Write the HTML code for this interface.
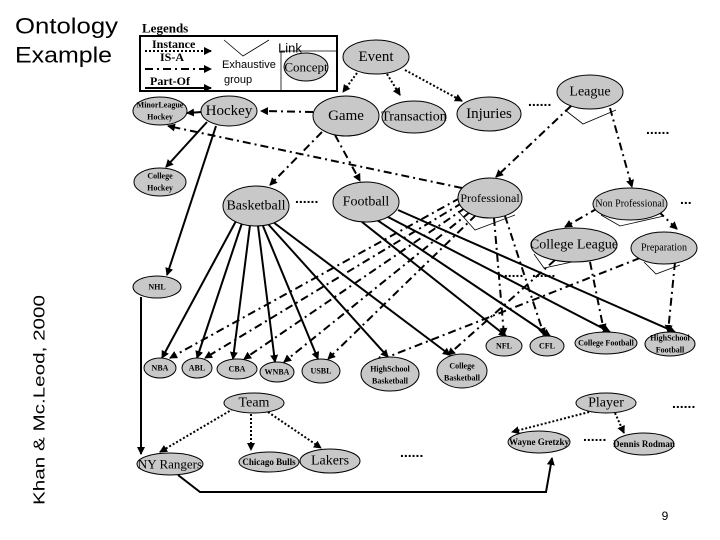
<!DOCTYPE html>
<html><head><meta charset="utf-8"><style>
html,body{margin:0;padding:0;background:#fff;width:720px;height:540px;overflow:hidden}
svg{position:absolute;left:0;top:0}
.t{font-family:"Liberation Serif",serif;fill:#000;text-anchor:middle;dominant-baseline:central}
.l{font-family:"Liberation Serif",serif;fill:#000;dominant-baseline:central;font-weight:bold}
.b{font-weight:bold}
ellipse{fill:#c8c8c8;stroke:#000;stroke-width:1}
.s{stroke:#000;stroke-width:2;fill:none;marker-end:url(#a)}
.d{stroke:#000;stroke-width:2;fill:none;stroke-dasharray:2 2;marker-end:url(#a)}
.k{stroke:#000;stroke-width:2;fill:none;stroke-dasharray:8 4 2 4;marker-end:url(#a)}
.v{stroke:#000;stroke-width:0.8;fill:none}
.dots{font-family:"Liberation Sans",sans-serif;font-weight:bold;font-size:14px}
</style></head><body>
<svg width="720" height="540" viewBox="0 0 720 540">
<defs><marker id="a" markerWidth="8" markerHeight="8" refX="7" refY="4" orient="auto" markerUnits="userSpaceOnUse"><path d="M0,0 L8,4 L0,8 z" fill="#000"/></marker></defs>
<text x="15" y="26" font-family="Liberation Sans,sans-serif" font-size="22" dominant-baseline="central" textLength="103" lengthAdjust="spacingAndGlyphs">Ontology</text>
<text x="15" y="55" font-family="Liberation Sans,sans-serif" font-size="22" dominant-baseline="central" textLength="97" lengthAdjust="spacingAndGlyphs">Example</text>
<text x="0" y="0" transform="translate(40,505) rotate(-90)" font-family="Liberation Sans,sans-serif" font-size="16" dominant-baseline="central" textLength="210" lengthAdjust="spacingAndGlyphs">Khan &amp; Mc.Leod, 2000</text>
<text x="665" y="516" font-family="Liberation Sans,sans-serif" font-size="12" text-anchor="middle" dominant-baseline="central">9</text>

<text x="142" y="28" class="l" font-size="13">Legends</text>
<rect x="140" y="36" width="197" height="55" fill="none" stroke="#000" stroke-width="2"/>
<text x="152" y="44" class="l" font-size="12">Instance</text>
<line x1="145" y1="51" x2="211" y2="51" class="d"/>
<text x="160" y="57" class="l" font-size="12">IS-A</text>
<line x1="145" y1="69" x2="211" y2="69" class="k"/>
<text x="150" y="81" class="l" font-size="12">Part-Of</text>
<line x1="145" y1="88" x2="211" y2="88" class="s"/>
<path d="M224,40 L243,56 L269,40" class="v"/>
<text x="222" y="65" font-family="Liberation Sans,sans-serif" font-size="11" dominant-baseline="central">Exhaustive</text>
<text x="224" y="80" font-family="Liberation Sans,sans-serif" font-size="11" dominant-baseline="central">group</text>
<line x1="281" y1="51" x2="281" y2="91" stroke="#000" stroke-width="0.8"/>
<line x1="281" y1="51" x2="337" y2="51" stroke="#000" stroke-width="0.8"/>
<text x="290" y="48" font-family="Liberation Sans,sans-serif" font-size="13" text-anchor="middle" dominant-baseline="central">Link</text>
<ellipse cx="306" cy="67" rx="22" ry="14"/><text x="306" y="67" class="t" font-size="13">Concept</text>

<line x1="357" y1="73" x2="343" y2="92" class="d"/>
<line x1="387" y1="74" x2="400" y2="95" class="d"/>
<line x1="405" y1="70" x2="462" y2="101" class="d"/>
<line x1="313" y1="112" x2="261" y2="111" class="k"/>
<line x1="322" y1="132" x2="270" y2="185" class="k"/>
<line x1="335" y1="135" x2="360" y2="181" class="k"/>
<line x1="202" y1="112" x2="187" y2="113" class="s"/>
<line x1="207" y1="122" x2="166" y2="167" class="s"/>
<line x1="216" y1="126" x2="167" y2="275" class="s"/>
<line x1="462" y1="188" x2="168" y2="126" class="k"/>
<line x1="571" y1="106" x2="496" y2="177" class="k"/>
<line x1="610" y1="108" x2="632" y2="187" class="k"/>
<line x1="598" y1="208" x2="565" y2="227" class="k"/>
<line x1="658" y1="211" x2="677" y2="229" class="k"/>
<line x1="236" y1="221" x2="162" y2="358" class="s"/>
<line x1="242" y1="223" x2="197" y2="358" class="s"/>
<line x1="250" y1="225" x2="233" y2="359" class="s"/>
<line x1="258" y1="226" x2="275" y2="362" class="s"/>
<line x1="263" y1="226" x2="318" y2="359" class="s"/>
<line x1="268" y1="224" x2="388" y2="357" class="s"/>
<line x1="273" y1="222" x2="450" y2="355" class="s"/>
<line x1="362" y1="222" x2="506" y2="336" class="s"/>
<line x1="377" y1="220" x2="550" y2="336" class="s"/>
<line x1="388" y1="217" x2="610" y2="332" class="s"/>
<line x1="398" y1="210" x2="675" y2="332" class="s"/>
<line x1="460" y1="198" x2="170" y2="358" class="k"/>
<line x1="462" y1="203" x2="205" y2="358" class="k"/>
<line x1="465" y1="208" x2="244" y2="359" class="k"/>
<line x1="470" y1="212" x2="284" y2="362" class="k"/>
<line x1="476" y1="215" x2="328" y2="359" class="k"/>
<line x1="494" y1="218" x2="504" y2="335" class="k"/>
<line x1="505" y1="216" x2="544" y2="335" class="k"/>
<line x1="555" y1="260" x2="448" y2="355" class="k"/>
<line x1="590" y1="262" x2="604" y2="331" class="k"/>
<line x1="640" y1="258" x2="375" y2="362" class="k"/>
<line x1="675" y1="262" x2="668" y2="332" class="k"/>
<line x1="233" y1="409" x2="160" y2="452" class="d"/>
<line x1="251" y1="414" x2="251" y2="450" class="d"/>
<line x1="268" y1="412" x2="321" y2="448" class="d"/>
<line x1="593" y1="411" x2="512" y2="432" class="d"/>
<line x1="615" y1="413" x2="624" y2="433" class="d"/>
<line x1="141" y1="297" x2="141" y2="454" class="s"/>
<polyline points="178,475 200,492 490,492 546,492 552,458" class="s"/>

<path d="M565,110 L583,124 L616,110" class="v"/>
<path d="M458,211 L475,230 L515,215" class="v"/>
<path d="M601,215 L620,226 L664,216" class="v"/>
<path d="M534,254 L544,268 L572,262" class="v"/>
<path d="M644,262 L656,274 L680,265" class="v"/>

<g>
<ellipse cx="376" cy="57" rx="33" ry="17"/><text x="376" y="57" class="t" font-size="15">Event</text>
<ellipse cx="229" cy="111" rx="28" ry="15"/><text x="229" y="111" class="t" font-size="15">Hockey</text>
<ellipse cx="160" cy="111" rx="27" ry="14"/><text x="160" y="105" class="t b" font-size="8">MinorLeague</text><text x="160" y="117" class="t b" font-size="8">Hockey</text>
<ellipse cx="346" cy="116" rx="33" ry="20"/><text x="346" y="116" class="t" font-size="15">Game</text>
<ellipse cx="414" cy="117" rx="32" ry="16"/><text x="414" y="117" class="t" font-size="14">Transaction</text>
<ellipse cx="489" cy="114" rx="32" ry="17"/><text x="489" y="114" class="t" font-size="15">Injuries</text>
<ellipse cx="590" cy="92" rx="33" ry="17"/><text x="590" y="92" class="t" font-size="14">League</text>
<ellipse cx="160" cy="182" rx="26" ry="14"/><text x="160" y="176" class="t b" font-size="8">College</text><text x="160" y="188" class="t b" font-size="8">Hockey</text>
<ellipse cx="256" cy="206" rx="33" ry="20"/><text x="256" y="206" class="t" font-size="14">Basketball</text>
<ellipse cx="366" cy="202" rx="33" ry="20"/><text x="366" y="202" class="t" font-size="14">Football</text>
<ellipse cx="490" cy="198" rx="32" ry="20"/><text x="490" y="198" class="t" font-size="12">Professional</text>
<ellipse cx="630" cy="204" rx="37" ry="16"/><text x="630" y="204" class="t" font-size="10">Non Professional</text>
<ellipse cx="574" cy="245" rx="43" ry="17"/><text x="574" y="245" class="t" font-size="14">College League</text>
<ellipse cx="664" cy="248" rx="33" ry="16"/><text x="664" y="248" class="t" font-size="10">Preparation</text>
<ellipse cx="157" cy="287" rx="24" ry="11"/><text x="157" y="287" class="t b" font-size="8">NHL</text>
<ellipse cx="160" cy="368" rx="16" ry="10"/><text x="160" y="368" class="t b" font-size="8">NBA</text>
<ellipse cx="197" cy="368" rx="15" ry="10"/><text x="197" y="368" class="t b" font-size="8">ABL</text>
<ellipse cx="237" cy="369" rx="20" ry="10"/><text x="237" y="369" class="t b" font-size="8">CBA</text>
<ellipse cx="277" cy="372" rx="17" ry="10"/><text x="277" y="372" class="t b" font-size="8">WNBA</text>
<ellipse cx="321" cy="371" rx="19" ry="12"/><text x="321" y="371" class="t b" font-size="8">USBL</text>
<ellipse cx="390" cy="374" rx="29" ry="17"/><text x="390" y="369" class="t b" font-size="8">HighSchool</text><text x="390" y="381" class="t b" font-size="8">Basketball</text>
<ellipse cx="462" cy="371" rx="25" ry="17"/><text x="462" y="366" class="t b" font-size="8">College</text><text x="462" y="378" class="t b" font-size="8">Basketball</text>
<ellipse cx="504" cy="346" rx="18" ry="10"/><text x="504" y="346" class="t b" font-size="8">NFL</text>
<ellipse cx="547" cy="346" rx="17" ry="10"/><text x="547" y="346" class="t b" font-size="8">CFL</text>
<ellipse cx="606" cy="343" rx="31" ry="11"/><text x="606" y="343" class="t b" font-size="8">College Football</text>
<ellipse cx="670" cy="344" rx="25" ry="12"/><text x="670" y="338" class="t b" font-size="8">HighSchool</text><text x="670" y="350" class="t b" font-size="8">Football</text>
<ellipse cx="254" cy="403" rx="30" ry="10"/><text x="254" y="403" class="t" font-size="14">Team</text>
<ellipse cx="269" cy="462" rx="30" ry="10"/><text x="269" y="462" class="t b" font-size="9">Chicago Bulls</text>
<ellipse cx="330" cy="461" rx="30" ry="12"/><text x="330" y="461" class="t" font-size="14">Lakers</text>
<ellipse cx="170" cy="464" rx="33" ry="11"/><text x="170" y="464" class="t" font-size="13">NY Rangers</text>
<ellipse cx="606" cy="403" rx="30" ry="10"/><text x="606" y="403" class="t" font-size="14">Player</text>
<ellipse cx="539" cy="442" rx="31" ry="11"/><text x="539" y="442" class="t b" font-size="9">Wayne Gretzky</text>
<ellipse cx="644" cy="444" rx="30" ry="11"/><text x="644" y="444" class="t b" font-size="9">Dennis Rodman</text>
</g>
<text x="295" y="203" class="dots">......</text>
<text x="528" y="106" class="dots">......</text>
<text x="646" y="134" class="dots">......</text>
<text x="680" y="204" class="dots">...</text>
<text x="400" y="457" class="dots">......</text>
<text x="583" y="441" class="dots">......</text>
<text x="672" y="408" class="dots">......</text>
<text x="500" y="277" class="dots">......</text>
<text x="532" y="277" class="dots">......</text>
</svg>
</body></html>
